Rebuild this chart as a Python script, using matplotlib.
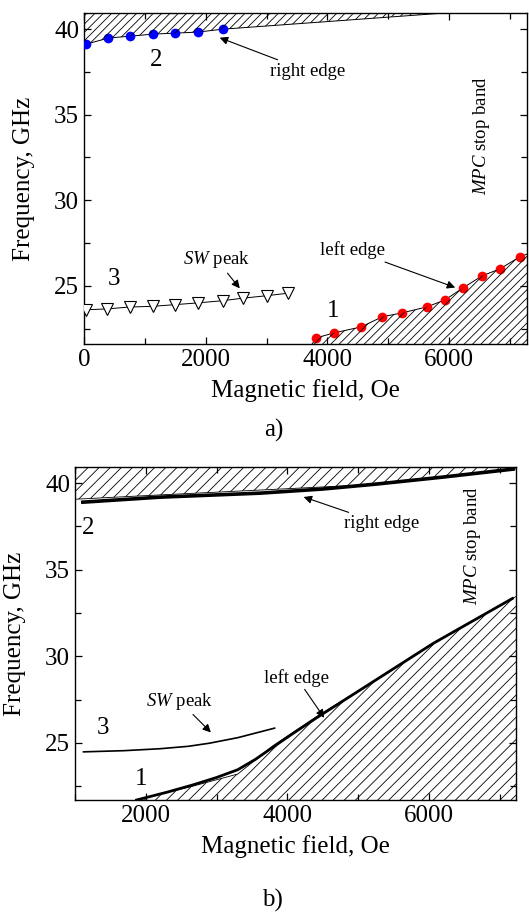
import matplotlib

matplotlib.use("Agg")
import matplotlib.pyplot as plt
from matplotlib.ticker import MultipleLocator

plt.rcParams["font.family"] = ["Liberation Serif", "DejaVu Serif"]
plt.rcParams["mathtext.fontset"] = "custom"
plt.rcParams["mathtext.rm"] = "Liberation Serif"
plt.rcParams["mathtext.it"] = "Liberation Serif:italic"
plt.rcParams["hatch.linewidth"] = 0.6

# ---- panel a) measured data ----
a_field_2 = [40, 400, 750, 1130, 1500, 1870, 2280]
a_freq_2 = [39.13, 39.48, 39.59, 39.71, 39.77, 39.83, 40.0]
a_field_3 = [40, 380, 750, 1130, 1500, 1870, 2280, 2620, 3000, 3360]
a_freq_3 = [23.60, 23.65, 23.76, 23.80, 23.90, 24.0, 24.13, 24.28, 24.42, 24.57]
a_field_1 = [3820, 4115, 4557, 4902, 5230, 5639, 5934, 6230, 6541, 6836, 7164]
a_freq_1 = [21.96, 22.25, 22.60, 23.19, 23.42, 23.77, 24.18, 24.88, 25.58, 25.99, 26.70]

# stop band edges (hatched areas)
a_top_x = [0, 40, 400, 750, 1130, 1500, 1870, 2280, 5950, 7400]
a_top_y = [39.05, 39.13, 39.48, 39.59, 39.71, 39.77, 39.83, 40.0, 40.95, 40.95]
a_bot_x = [3750, 3820, 4115, 4557, 4902, 5230, 5639, 5934, 6230, 6541, 6836, 7164, 7400]
a_bot_y = [21.6, 21.96, 22.25, 22.60, 23.19, 23.42, 23.77, 24.18, 24.88, 25.58, 25.99, 26.70, 27.0]

# ---- panel b) calculated curves ----
b_field_2 = [1110, 2200, 3610, 4500, 5270, 6200, 7190]
b_freq_2 = [38.90, 39.19, 39.42, 39.66, 39.95, 40.35, 40.81]
b_field_3 = [1120, 1700, 2200, 2600, 2900, 3300, 3820]
b_freq_3 = [24.48, 24.55, 24.66, 24.80, 24.98, 25.30, 25.85]
b_field_1 = [1870, 2300, 2665, 3000, 3300, 3550, 3796, 4100, 4433, 5200, 6059, 7180]
b_freq_1 = [21.70, 22.15, 22.57, 23.00, 23.45, 24.05, 24.75, 25.60, 26.50, 28.50, 30.74, 33.34]

b_top_x = [1000, 2200, 3610, 5000, 5270, 6200, 7190, 7300]
b_top_y = [39.07, 39.32, 39.60, 39.88, 40.0, 40.38, 40.81, 40.85]
b_bot_x = [1870, 2665, 3300, 3796, 4433, 5200, 6059, 7180, 7230]
b_bot_y = [21.70, 22.50, 23.20, 24.83, 26.57, 28.50, 30.74, 33.34, 33.45]

fig = plt.figure(figsize=(5.29, 9.17), dpi=100)
ax_a = fig.add_axes([0.1588, 0.6249, 0.8374, 0.361])
ax_b = fig.add_axes([0.1418, 0.1276, 0.8336, 0.3631])

TICK_FS = 18
LBL_FS = 18
ANN_FS = 13.5
arrow = dict(arrowstyle="-|>", lw=0.8, color="k", mutation_scale=12, shrinkA=0, shrinkB=0)


def style(ax, xlim, ylim, xmajor):
    ax.set_xlim(*xlim)
    ax.set_ylim(*ylim)
    ax.xaxis.set_major_locator(MultipleLocator(xmajor))
    ax.xaxis.set_minor_locator(MultipleLocator(1000))
    ax.yaxis.set_major_locator(MultipleLocator(5))
    ax.yaxis.set_minor_locator(MultipleLocator(2.5))
    ax.tick_params(which="both", direction="in", top=True, right=True, labelsize=TICK_FS)
    ax.tick_params(which="major", length=5, width=0.9)
    ax.tick_params(which="minor", length=4, width=0.9)
    for s in ax.spines.values():
        s.set_linewidth(1.0)
    ax.set_xlabel("Magnetic field, Oe", fontsize=LBL_FS)
    ax.set_ylabel("Frequency, GHz", fontsize=LBL_FS)


# panel a
ax = ax_a
style(ax, (0, 7280), (21.6, 40.95), 2000)
ax.fill_between(a_top_x, a_top_y, 42, facecolor="none", edgecolor="k", hatch="////", lw=0, zorder=4)
ax.fill_between(a_bot_x, a_bot_y, 21.0, facecolor="none", edgecolor="k", hatch="////", lw=0, zorder=4)
ax.plot(a_top_x, a_top_y, color="k", lw=0.7, zorder=2)
ax.plot(a_bot_x, a_bot_y, color="k", lw=0.7, zorder=2)
ax.plot(a_field_2, a_freq_2, "o", color="#0000ff", ms=7, mec="none", zorder=3)
ax.plot(a_field_1, a_freq_1, "o", color="#ff0000", ms=7, mec="none", zorder=3)
ax.plot(a_field_3, a_freq_3, "-v", color="k", lw=0.7, ms=8, mfc="white", mec="k", mew=0.8, zorder=3)
ax.text(1180, 38.2, "2", fontsize=TICK_FS, ha="center", va="center")
ax.text(500, 25.4, "3", fontsize=TICK_FS, ha="center", va="center")
ax.text(4100, 23.5, "1", fontsize=TICK_FS, ha="center", va="center")
ax.annotate("right edge", xy=(2230, 39.5), xytext=(3050, 38.05), fontsize=ANN_FS,
            ha="left", va="top", arrowprops=arrow)
ax.annotate("$\\mathit{SW}$ peak", xy=(2560, 24.85), xytext=(2180, 25.9), fontsize=ANN_FS,
            ha="center", va="bottom", arrowprops=arrow)
ax.annotate("left edge", xy=(6100, 24.9), xytext=(4950, 26.55), fontsize=ANN_FS,
            ha="right", va="bottom", arrowprops=arrow)
ax.text(6540, 33.8, "$\\mathit{MPC}$ stop band", fontsize=ANN_FS, rotation=90,
        ha="center", va="center")
ax.yaxis.set_label_coords(-0.11, 0.5)
ax.xaxis.set_label_coords(0.5, -0.105)

# panel b
ax = ax_b
style(ax, (1000, 7230), (21.7, 40.93), 2000)
ax.fill_between(b_top_x, b_top_y, 42, facecolor="none", edgecolor="k", hatch="///", lw=0, zorder=1)
ax.fill_between(b_bot_x, b_bot_y, 21.0, facecolor="none", edgecolor="k", hatch="///", lw=0, zorder=1)
ax.plot(b_top_x, b_top_y, color="k", lw=0.6, zorder=2)
ax.plot(b_bot_x, b_bot_y, color="k", lw=0.6, zorder=2)
ax.plot(b_field_2, b_freq_2, color="k", lw=2.6, zorder=3)
ax.plot(b_field_1, b_freq_1, color="k", lw=2.0, zorder=3)
ax.plot(b_field_3, b_freq_3, color="k", lw=1.2, zorder=3)
ax.text(1185, 37.4, "2", fontsize=TICK_FS, ha="center", va="center")
ax.text(1390, 25.85, "3", fontsize=TICK_FS, ha="center", va="center")
ax.text(1930, 22.9, "1", fontsize=TICK_FS, ha="center", va="center")
ax.annotate("right edge", xy=(4230, 39.2), xytext=(4800, 38.15), fontsize=ANN_FS,
            ha="left", va="top", arrowprops=arrow)
ax.annotate("$\\mathit{SW}$ peak", xy=(2920, 25.6), xytext=(2480, 26.8), fontsize=ANN_FS,
            ha="center", va="bottom", arrowprops=arrow)
ax.annotate("left edge", xy=(4520, 26.45), xytext=(4130, 28.25), fontsize=ANN_FS,
            ha="center", va="bottom", arrowprops=arrow)
ax.text(6610, 36.4, "$\\mathit{MPC}$ stop band", fontsize=ANN_FS, rotation=90,
        ha="center", va="center")
ax.yaxis.set_label_coords(-0.111, 0.5)
ax.xaxis.set_label_coords(0.5, -0.105)

fig.text(274 / 529, 1 - 430 / 917, "a)", fontsize=LBL_FS, ha="center", va="center")
fig.text(272 / 529, 1 - 900 / 917, "b)", fontsize=LBL_FS, ha="center", va="center")

fig.savefig("out.png", dpi=100)
